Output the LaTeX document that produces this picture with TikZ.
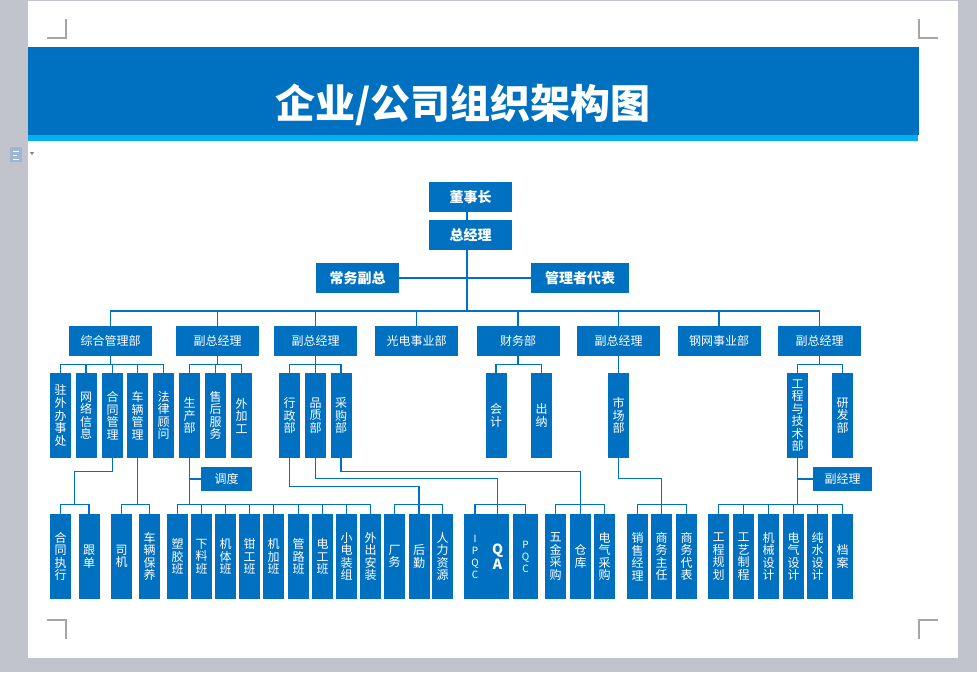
\documentclass[tikz,border=0pt]{standalone}
\usepackage{fontspec}
\newfontfamily\cjk{Noto Sans CJK SC}
\usetikzlibrary{calc}
\definecolor{jblue}{RGB}{0,112,192}
\definecolor{jcyan}{RGB}{0,176,240}
\definecolor{desk}{RGB}{193,196,204}
\definecolor{markgray}{RGB}{165,165,165}
\definecolor{iconblue}{RGB}{160,180,212}
\tikzset{
  box/.style={fill=jblue, text=white, inner sep=0pt, font=\cjk\fontsize{9}{9.4}\selectfont},
  hbox/.style={box, minimum width=62.25pt, minimum height=22.5pt},
  topbox/.style={hbox, font=\cjk\bfseries\fontsize{10.5}{12}\selectfont},
  vbox/.style={box, align=center, minimum width=15.75pt, minimum height=63.75pt},
  latin/.style={font=\cjk\fontsize{7.5}{9}\selectfont},
  link/.style={draw=jblue, line width=1pt},
  cropmark/.style={draw=markgray, line width=0.8pt}
}
\begin{document}
\begin{tikzpicture}[x=0.75pt, y=-0.75pt]
    \useasboundingbox (0,0) rectangle (977,672);
    % page
    \fill[desk] (0,0) rectangle (977,672);
    \fill[white] (28,1) rectangle (958,658);
    \draw[cropmark] (47,38) -- (66,38) -- (66,19);
    \draw[cropmark] (938,38) -- (919,38) -- (919,19);
    \draw[cropmark] (47,620) -- (66,620) -- (66,639);
    \draw[cropmark] (938,620) -- (919,620) -- (919,639);
    \fill[iconblue] (10,147) rectangle (22,162);
    \draw[white, line width=0.6pt] (13,151) -- (19,151) (13,155) -- (17,155) (13,159) -- (19,159);
    \fill[gray] (30,152) -- (34,152) -- (32,155) -- cycle;
    % banner
    \fill[jblue] (28,47) rectangle (919,135);
    \fill[jcyan] (28,135) rectangle (918,141);
    \node[text=white, font=\cjk\bfseries\fontsize{30}{36}\selectfont] (title) at (463,105) {企业/公司组织架构图};

    % top
    \node[topbox] (dsz) at (470.5,197) {董事长};
    \node[topbox] (zjl) at (470.5,235) {总经理};
    \node[topbox] (cwfz) at (357.5,278) {常务副总};
    \node[topbox, minimum width=73.5pt] (glzdb) at (580,278) {管理者代表};

    % departments
    \node[hbox] (zh) at (110.5,341) {综合管理部};
    \node[hbox] (fz1) at (217.5,341) {副总经理};
    \node[hbox] (fz2) at (315.5,341) {副总经理};
    \node[hbox] (gd) at (416.5,341) {光电事业部};
    \node[hbox] (cw) at (518,341) {财务部};
    \node[hbox] (fz3) at (618.5,341) {副总经理};
    \node[hbox] (gw) at (719,341) {钢网事业部};
    \node[hbox] (fz4) at (819.5,341) {副总经理};

    % third row
    \node[vbox] (a1) at (60.5,415.5) {驻\\外\\办\\事\\处};
    \node[vbox] (a2) at (86,415.5) {网\\络\\信\\息};
    \node[vbox] (a3) at (112.5,415.5) {合\\同\\管\\理};
    \node[vbox] (a4) at (137.5,415.5) {车\\辆\\管\\理};
    \node[vbox] (a5) at (163.5,415.5) {法\\律\\顾\\问};
    \node[vbox] (p1) at (189.5,415.5) {生\\产\\部};
    \node[vbox] (p2) at (215.5,415.5) {售\\后\\服\\务};
    \node[vbox] (p3) at (241.5,415.5) {外\\加\\工};
    \node[vbox] (q1) at (289.5,415.5) {行\\政\\部};
    \node[vbox] (q2) at (315.5,415.5) {品\\质\\部};
    \node[vbox] (q3) at (341,415.5) {采\\购\\部};
    \node[vbox] (r1) at (496,415.5) {会\\计};
    \node[vbox] (r2) at (541.5,415.5) {出\\纳};
    \node[vbox] (s1) at (618.5,415.5) {市\\场\\部};
    \node[vbox] (t1) at (797.5,415.5) {工\\程\\与\\技\\术\\部};
    \node[vbox] (t2) at (842.5,415.5) {研\\发\\部};
    \node[box, minimum width=38.25pt, minimum height=18pt] (dd) at (226.5,479) {调度};
    \node[box, minimum width=44.25pt, minimum height=18pt] (fjl) at (842.5,479) {副经理};

    % bottom row
    \node[vbox] (d1) at (60.5,556.5) {合\\同\\执\\行};
    \node[vbox] (d2) at (89,556.5) {跟\\单};
    \node[vbox] (d3) at (121.5,556.5) {司\\机};
    \node[vbox] (d4) at (149.5,556.5) {车\\辆\\保\\养};
    \node[vbox] (e1) at (177.5,556.5) {塑\\胶\\班};
    \node[vbox] (e2) at (201.5,556.5) {下\\料\\班};
    \node[vbox] (e3) at (225.5,556.5) {机\\体\\班};
    \node[vbox] (e4) at (249.5,556.5) {钳\\工\\班};
    \node[vbox] (e5) at (273.5,556.5) {机\\加\\班};
    \node[vbox] (e6) at (298.5,556.5) {管\\路\\班};
    \node[vbox] (e7) at (322.5,556.5) {电\\工\\班};
    \node[vbox] (e8) at (346.5,556.5) {小\\电\\装\\组};
    \node[vbox] (e9) at (370.5,556.5) {外\\出\\安\\装};
    \node[vbox] (f1) at (394.5,556.5) {厂\\务};
    \node[vbox] (f2) at (419,556.5) {后\\勤};
    \node[vbox] (f3) at (442.5,556.5) {人\\力\\资\\源};
    \node[vbox, latin, minimum width=16.5pt] (g1) at (475,556.5) {I\\P\\Q\\C};
    \node[vbox, minimum width=17.25pt, font=\cjk\bfseries\fontsize{10.5}{11.5}\selectfont] (g2) at (497.5,556.5) {Q\\A};
    \node[vbox, latin, minimum width=18.75pt] (g3) at (525.5,556.5) {P\\Q\\C};
    \node[vbox] (h1) at (555.5,556.5) {五\\金\\采\\购};
    \node[vbox] (h2) at (580.5,556.5) {仓\\库};
    \node[vbox] (h3) at (604.5,556.5) {电\\气\\采\\购};
    \node[vbox] (k1) at (637.5,556.5) {销\\售\\经\\理};
    \node[vbox] (k2) at (661.5,556.5) {商\\务\\主\\任};
    \node[vbox] (k3) at (686.5,556.5) {商\\务\\代\\表};
    \node[vbox] (m1) at (718.5,556.5) {工\\程\\规\\划};
    \node[vbox] (m2) at (743.5,556.5) {工\\艺\\制\\程};
    \node[vbox] (m3) at (768.5,556.5) {机\\械\\设\\计};
    \node[vbox] (m4) at (793.5,556.5) {电\\气\\设\\计};
    \node[vbox] (m5) at (817.5,556.5) {纯\\水\\设\\计};
    \node[vbox] (m6) at (842.5,556.5) {档\\案};

    % links, top part
    \coordinate (b0) at (467,311);
    \draw[link] (dsz.south -| b0) -- (zjl.north -| b0);
    \draw[link] (zjl.south -| b0) -- (b0);
    \draw[link] (cwfz) -- (glzdb);
    \draw[link] (b0) -| (zh) (b0) -| (fz1) (b0) -| (fz2) (b0) -| (gd) (b0) -| (cw) (b0) -| (fz3) (b0) -| (gw) (b0) -| (fz4);

    % links, departments
    \draw[link] (zh.south) -- ++(0,8) coordinate (b1);
    \draw[link] (b1) -| (a1) (b1) -| (a2) (b1) -| (a3) (b1) -| (a4) (b1) -| (a5);
    \draw[link] (fz1.south) -- ++(0,8) coordinate (b2);
    \draw[link] (b2) -| (p1) (b2) -| (p2) (b2) -| (p3);
    \draw[link] (fz2.south) -- ++(0,8) coordinate (b3);
    \draw[link] (b3) -| (q1) (b3) -| (q2) (b3) -| (q3);
    \draw[link] (cw.south) -- ++(0,8) coordinate (b4);
    \draw[link] (b4) -| (r1) (b4) -| (r2);
    \draw[link] (fz3) -- (s1);
    \draw[link] (fz4.south) -- ++(0,8) coordinate (b5);
    \draw[link] (b5) -| (t1) (b5) -| (t2);

    % links, bottom row
    \coordinate (c1) at ($(d1.north)!.5!(d2.north)+(0,-9)$);
    \draw[link] (a3.south) -- ++(0,13) -| (c1) -| (d1) (c1) -| (d2);
    \coordinate (c2) at ($(a4.south |- d3.north)+(0,-9)$);
    \draw[link] (a4.south) -- (c2) -| (d3) (c2) -| (d4);
    \coordinate (c3) at ($(p1.south |- e1.north)+(0,-9)$);
    \draw[link] (p1.south) -- (c3) -| (e1) (c3) -| (e2) (c3) -| (e3) (c3) -| (e4) (c3) -| (e5) (c3) -| (e6) (c3) -| (e7) (c3) -| (e8) (c3) -| (e9);
    \draw[link] (dd) -- (dd -| p1);
    \coordinate (c4) at ($(f2.north)+(0,-9)$);
    \draw[link] (q1.south) -- ++(0,28) -| (f2) (f1) |- (c4) -| (f3);
    \coordinate (c5) at ($(g2.north)+(0,-9)$);
    \draw[link] (q2.south) -- ++(0,20) -| (g2) (g1) |- (c5) -| (g3);
    \coordinate (c6) at ($(h2.north)+(0,-9)$);
    \draw[link] (q3.south) -- ++(0,13) -| (h2) (h1) |- (c6) -| (h3);
    \coordinate (c7) at ($(k2.north)+(0,-9)$);
    \draw[link] (s1.south) -- ++(0,20) -| (k2) (k1) |- (c7) -| (k3);
    \coordinate (c8) at ($(t1.south |- m1.north)+(0,-9)$);
    \draw[link] (t1.south) -- (c8) -| (m1) (c8) -| (m2) (c8) -| (m3) (c8) -| (m4) (c8) -| (m5) (c8) -| (m6);
    \draw[link] (fjl) -- (fjl -| t1);
\end{tikzpicture}
\end{document}
